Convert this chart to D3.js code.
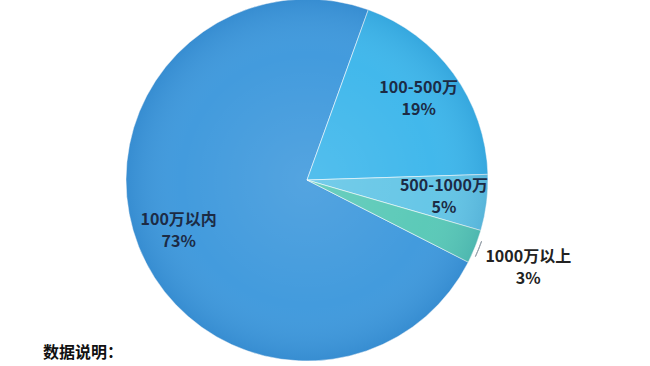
<!DOCTYPE html>
<html>
<head>
<meta charset="utf-8">
<script src="https://cdn.jsdelivr.net/npm/d3@7"></script>
<style>
  html, body { margin: 0; padding: 0; background: #fff; }
  svg { display: block; font-family: "Noto Sans CJK SC", "Noto Sans", sans-serif; }
</style>
</head>
<body>
<div id="chart"></div>
<script>
// data
const categories = ['100万以内', '100-500万', '500-1000万', '1000万以上'];
const shares = [73, 19, 5, 3];
const sliceColors = ['#3d98dc', '#3cb6eb', '#62c5e6', '#57c8b6'];
const noteText = '数据说明：';

const width = 650, height = 366;
const cx = 307, cy = 180, radius = 181;
const innerLabelR = 138, outerLabelR = 238;

const svg = d3.select('#chart').append('svg')
  .attr('width', width)
  .attr('height', height);

const defs = svg.append('defs');
const shade = defs.append('radialGradient')
  .attr('id', 'shade')
  .attr('cx', '50%').attr('cy', '50%').attr('r', '50%');
shade.append('stop').attr('offset', '0%').attr('stop-color', '#ffffff').attr('stop-opacity', 0.12);
shade.append('stop').attr('offset', '70%').attr('stop-color', '#ffffff').attr('stop-opacity', 0.03);
shade.append('stop').attr('offset', '100%').attr('stop-color', '#0a3c80').attr('stop-opacity', 0.12);

const g = svg.append('g')
  .attr('transform', 'translate(' + cx + ',' + cy + ')');

const data = categories.map((c, i) => ({ name: c, value: shares[i] }));

const start = 117 * Math.PI / 180;
const pie = d3.pie()
  .sort(null)
  .value(d => d.value)
  .startAngle(start)
  .endAngle(start + 2 * Math.PI);

const arcs = pie(data);
const arc = d3.arc().innerRadius(0).outerRadius(radius);
const inLabel = d3.arc().innerRadius(innerLabelR).outerRadius(innerLabelR);
const outLabel = d3.arc().innerRadius(outerLabelR).outerRadius(outerLabelR);

// slices
g.selectAll('path.slice')
  .data(arcs)
  .enter().append('path')
  .attr('class', 'slice')
  .attr('d', arc)
  .attr('fill', (d, i) => sliceColors[i])
  .attr('stroke', 'rgba(255,255,255,0.55)')
  .attr('stroke-width', 1);

// soft shading over the whole pie
g.append('circle')
  .attr('r', radius)
  .attr('fill', 'url(#shade)')
  .attr('pointer-events', 'none');

// labels
const isOutside = d => d.data.value < 4;

const labels = g.selectAll('g.label')
  .data(arcs)
  .enter().append('g')
  .attr('class', 'label')
  .attr('transform', d => 'translate(' + (isOutside(d) ? outLabel : inLabel).centroid(d) + ')');

labels.append('text')
  .attr('text-anchor', 'middle')
  .attr('y', -6)
  .style('font-size', '16px')
  .style('font-weight', 'bold')
  .attr('fill', d => isOutside(d) ? '#222' : '#1c2b45')
  .text(d => d.data.name);

labels.append('text')
  .attr('text-anchor', 'middle')
  .attr('y', 16)
  .style('font-size', '16px')
  .style('font-weight', 'bold')
  .attr('fill', d => isOutside(d) ? '#222' : '#1c2b45')
  .text(d => d.data.value + '%');

// small leader bracket for outside label
arcs.filter(isOutside).forEach(d => {
  const mid = (d.startAngle + d.endAngle) / 2;
  const bracket = d3.arc()
    .innerRadius(radius + 4)
    .outerRadius(radius + 4)
    .startAngle(mid - 0.04)
    .endAngle(mid + 0.05);
  g.append('path')
    .attr('d', bracket())
    .attr('fill', 'none')
    .attr('stroke', '#9aa4ad')
    .attr('stroke-width', 1);
});

// note at bottom
svg.append('text')
  .attr('x', 43)
  .attr('y', 358)
  .style('font-size', '16px')
  .style('font-weight', 'bold')
  .attr('fill', '#111')
  .text(noteText);
</script>
</body>
</html>
